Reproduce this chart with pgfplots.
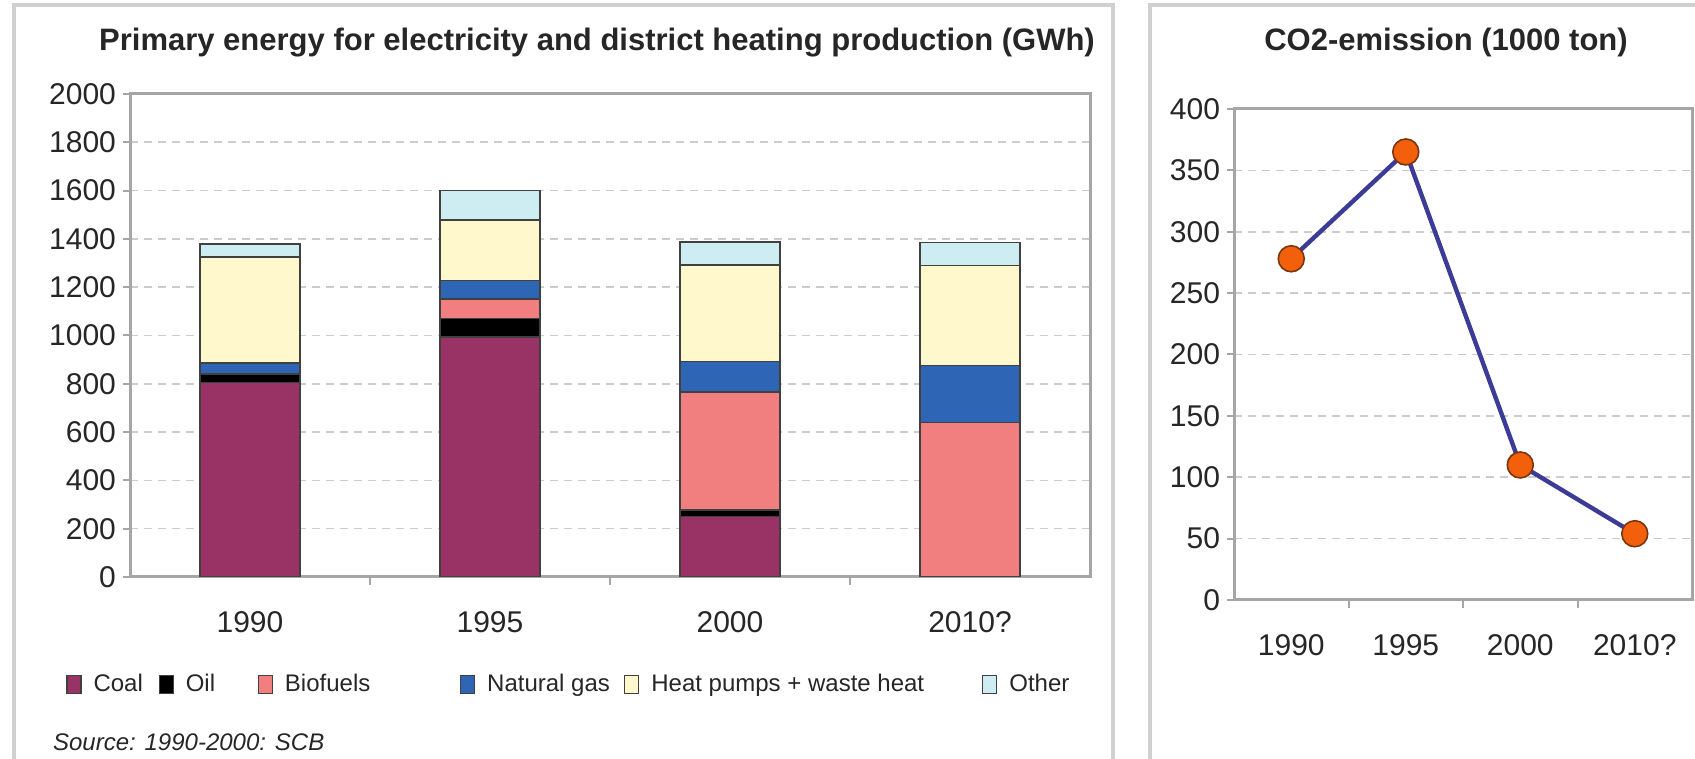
\documentclass[border=0pt]{standalone}
\usepackage{fontspec}
\setmainfont{Liberation Sans}
\usepackage{pgfplots}
\usepackage{pgfplotstable}
\pgfplotsset{compat=1.18}

\definecolor{coal}{HTML}{993366}
\definecolor{oil}{HTML}{000000}
\definecolor{bio}{HTML}{F27F7F}
\definecolor{gas}{HTML}{2F65B5}
\definecolor{heat}{HTML}{FFF8CC}
\definecolor{other}{HTML}{CDEDF3}
\definecolor{co2line}{HTML}{3C3C96}
\definecolor{co2mark}{HTML}{F2600C}
\definecolor{co2edge}{HTML}{7A3510}
\definecolor{frame}{HTML}{A6A6A6}
\definecolor{panel}{HTML}{D0D0D0}

% GWh, stacked from the bottom
\pgfplotstableread{
x coal oil bio gas heat other
0 805 35 0 45 440 55
1 995 76 80 76 251 122
2 250 27 490 125 400 95
3 0 0 640 235 415 95
}\energy

% 1000 ton
\pgfplotstableread{
x co2
0 278
1 365
2 110
3 54
}\emission

\pgfplotsset{
  panelaxis/.style={
    scale only axis,
    anchor=south west,
    axis line style={draw=frame, line width=1.5pt},
    ymajorgrids,
    grid style={draw=gray!40, dash pattern=on 4pt off 3pt, line width=0.8pt},
    tick align=outside,
    major tick length=3.5pt,
    minor tick length=4pt,
    xtick pos=bottom, ytick pos=left,
    xmin=-0.5, xmax=3.5,
    xtick={0,1,2,3},
    xticklabels={1990,1995,2000,2010?},
    minor xtick={0.5,1.5,2.5},
    major x tick style={draw=none},
    minor x tick style={draw=frame, line width=1pt},
    major y tick style={draw=frame, line width=1pt},
    tick label style={font=\fontsize{15}{18}\selectfont, text=black!85},
    xticklabel style={yshift=-10pt},
    /pgf/number format/assume math mode=true,
    /pgf/number format/1000 sep={},
  },
  sq/.style={legend image code/.code={\draw[##1, line width=0.6pt] (0pt,-4.5pt) rectangle (7pt,4.5pt);}},
}

\begin{document}
\begin{tikzpicture}
\useasboundingbox (0,0) rectangle (847.5pt,379.5pt);

% panel frames
\draw[panel, line width=2pt] (7pt,0) -- (7pt,377pt) -- (556.5pt,377pt) -- (556.5pt,0);
\draw[panel, line width=2pt] (575pt,0) -- (575pt,377pt) -- (850pt,377pt);

\node[font=\fontsize{15.5}{18}\selectfont\bfseries, text=black!85] at (298.5pt,358pt)
  {Primary energy for electricity and district heating production (GWh)};
\node[font=\fontsize{15.5}{18}\selectfont\bfseries, text=black!85] at (723pt,358.5pt)
  {CO2-emission (1000 ton)};

\begin{axis}[
  panelaxis,
  at={(65pt,91pt)},
  width=480pt, height=241.5pt,
  ybar stacked,
  bar width=50pt,
  ymin=0, ymax=2000,
  ytick={0,200,...,2000},
  legend columns=6,
  legend style={draw=none, fill=none, inner sep=0pt,
    at={(-0.0667,-0.2230)}, anchor=west,
    font=\fontsize{12}{14}\selectfont,
    nodes={inner sep=0pt, anchor=west, text=black!85},
    /tikz/every odd column/.append style={column sep=6pt},
    /tikz/every even column/.append style={column sep=0pt}},
]
\addplot[sq, fill=coal, draw=black!75, line width=0.8pt] table[x=x, y=coal] {\energy};
\addplot[sq, fill=oil, draw=black!75, line width=0.8pt] table[x=x, y=oil] {\energy};
\addplot[sq, fill=bio, draw=black!75, line width=0.8pt] table[x=x, y=bio] {\energy};
\addplot[sq, fill=gas, draw=black!75, line width=0.8pt] table[x=x, y=gas] {\energy};
\addplot[sq, fill=heat, draw=black!75, line width=0.8pt] table[x=x, y=heat] {\energy};
\addplot[sq, fill=other, draw=black!75, line width=0.8pt] table[x=x, y=other] {\energy};
\legend{\makebox[32.5pt][l]{Coal}, \makebox[36pt][l]{Oil}, \makebox[87.5pt][l]{Biofuels},
  \makebox[68.5pt][l]{Natural gas}, \makebox[165.4pt][l]{Heat pumps + waste heat}, Other}
\end{axis}

\begin{axis}[
  panelaxis,
  at={(617pt,79.5pt)},
  width=229pt, height=245.5pt,
  ymin=0, ymax=400,
  ytick={0,50,...,400},
]
\addplot[co2line, line width=2.2pt, mark=*, mark size=6.5pt,
  mark options={fill=co2mark, draw=co2edge, line width=0.8pt}]
  table[x=x, y=co2] {\emission};
\end{axis}

\node[anchor=west, font=\fontsize{12}{14}\selectfont\itshape, text=black!85] at (23pt,8.5pt)
  {Source: 1990-2000: SCB};
\end{tikzpicture}
\end{document}
